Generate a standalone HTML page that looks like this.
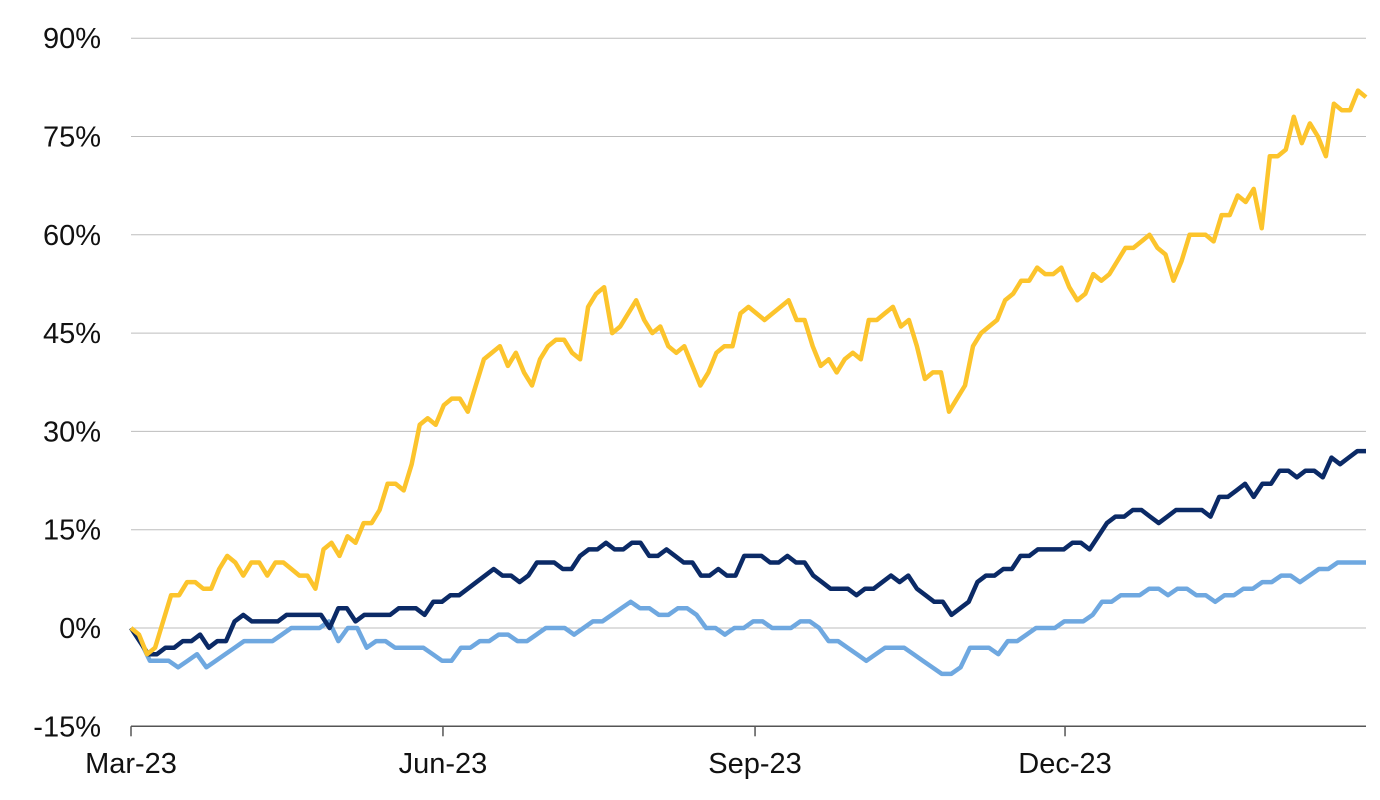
<!DOCTYPE html>
<html><head><meta charset="utf-8"><style>
html,body{margin:0;padding:0;background:#fff;}
svg{display:block;font-family:"Liberation Sans",sans-serif;}
</style></head><body>
<svg id="chart" width="1380" height="800"></svg>
<script>
const yTicks=[-15,0,15,30,45,60,75,90];
const yTickLabels=["-15%","0%","15%","30%","45%","60%","75%","90%"];
const xTickLabels=["Mar-23","Jun-23","Sep-23","Dec-23"];
const xTickFrac=[0,0.2526,0.5053,0.7563];
const yellowSeries=[0,-1,-4,-3,1,5,5,7,7,6,6,9,11,10,8,10,10,8,10,10,9,8,8,6,12,13,11,14,13,16,16,18,22,22,21,25,31,32,31,34,35,35,33,37,41,42,43,40,42,39,37,41,43,44,44,42,41,49,51,52,45,46,48,50,47,45,46,43,42,43,40,37,39,42,43,43,48,49,48,47,48,49,50,47,47,43,40,41,39,41,42,41,47,47,48,49,46,47,43,38,39,39,33,35,37,43,45,46,47,50,51,53,53,55,54,54,55,52,50,51,54,53,54,56,58,58,59,60,58,57,53,56,60,60,60,59,63,63,66,65,67,61,72,72,73,78,74,77,75,72,80,79,79,82,81];
const navySeries=[0,-2,-4,-4,-3,-3,-2,-2,-1,-3,-2,-2,1,2,1,1,1,1,2,2,2,2,2,0,3,3,1,2,2,2,2,3,3,3,2,4,4,5,5,6,7,8,9,8,8,7,8,10,10,10,9,9,11,12,12,13,12,12,13,13,11,11,12,11,10,10,8,8,9,8,8,11,11,11,10,10,11,10,10,8,7,6,6,6,5,6,6,7,8,7,8,6,5,4,4,2,3,4,7,8,8,9,9,11,11,12,12,12,12,13,13,12,14,16,17,17,18,18,17,16,17,18,18,18,18,17,20,20,21,22,20,22,22,24,24,23,24,24,23,26,25,26,27,27];
const lightBlueSeries=[0,-2,-5,-5,-5,-6,-5,-4,-6,-5,-4,-3,-2,-2,-2,-2,-1,0,0,0,0,1,-2,0,0,-3,-2,-2,-3,-3,-3,-3,-4,-5,-5,-3,-3,-2,-2,-1,-1,-2,-2,-1,0,0,0,-1,0,1,1,2,3,4,3,3,2,2,3,3,2,0,0,-1,0,0,1,1,0,0,0,1,1,0,-2,-2,-3,-4,-5,-4,-3,-3,-3,-4,-5,-6,-7,-7,-6,-3,-3,-3,-4,-2,-2,-1,0,0,0,1,1,1,2,4,4,5,5,5,6,6,5,6,6,5,5,4,5,5,6,6,7,7,8,8,7,8,9,9,10,10,10,10];
const NS="http://www.w3.org/2000/svg";
const svg=document.getElementById('chart');
const X0=131,X1=1366,Y0=628,PX=98.3/15;
const yScale=v=>Y0-v*PX;
const xScale=f=>X0+f*(X1-X0);
function mk(t,a){const e=document.createElementNS(NS,t);for(const k in a)e.setAttribute(k,a[k]);svg.appendChild(e);return e;}
yTicks.forEach((v,i)=>{
  if(v!==-15){const g=mk('line',{x1:X0,x2:X1,y1:yScale(v),y2:yScale(v),stroke:'#bdbdbd','stroke-width':1});
  
  }
  const t=mk('text',{x:101,y:yScale(v)+10,'text-anchor':'end','font-size':29,fill:'#111'});
  t.textContent=yTickLabels[i];
  
  
});
const ax=mk('line',{x1:X0,x2:X1,y1:yScale(-15),y2:yScale(-15),stroke:'#555','stroke-width':1.5});


xTickLabels.forEach((l,i)=>{
  const x=xScale(xTickFrac[i]);
  const tk=mk('line',{x1:x,x2:x,y1:yScale(-15),y2:yScale(-15)+10,stroke:'#555','stroke-width':1.5});
  
  
  const t=mk('text',{x:x,y:773,'text-anchor':'middle','font-size':29,fill:'#111'});
  t.textContent=l;
  
  
});
function drawLine(arr,color,name){
  const n=arr.length;
  const d=arr.map((v,i)=>(i?'L':'M')+xScale(i/(n-1)).toFixed(1)+','+yScale(v).toFixed(1)).join(' ');
  const p=mk('path',{d:d,fill:'none',stroke:color,'stroke-width':4.5,'stroke-linejoin':'round'});
  
  
}
drawLine(lightBlueSeries,'#6fa8e0','light-blue-series-line');
drawLine(navySeries,'#0b2a66','navy-series-line');
drawLine(yellowSeries,'#fcc42c','yellow-series-line');
</script>
</body></html>
